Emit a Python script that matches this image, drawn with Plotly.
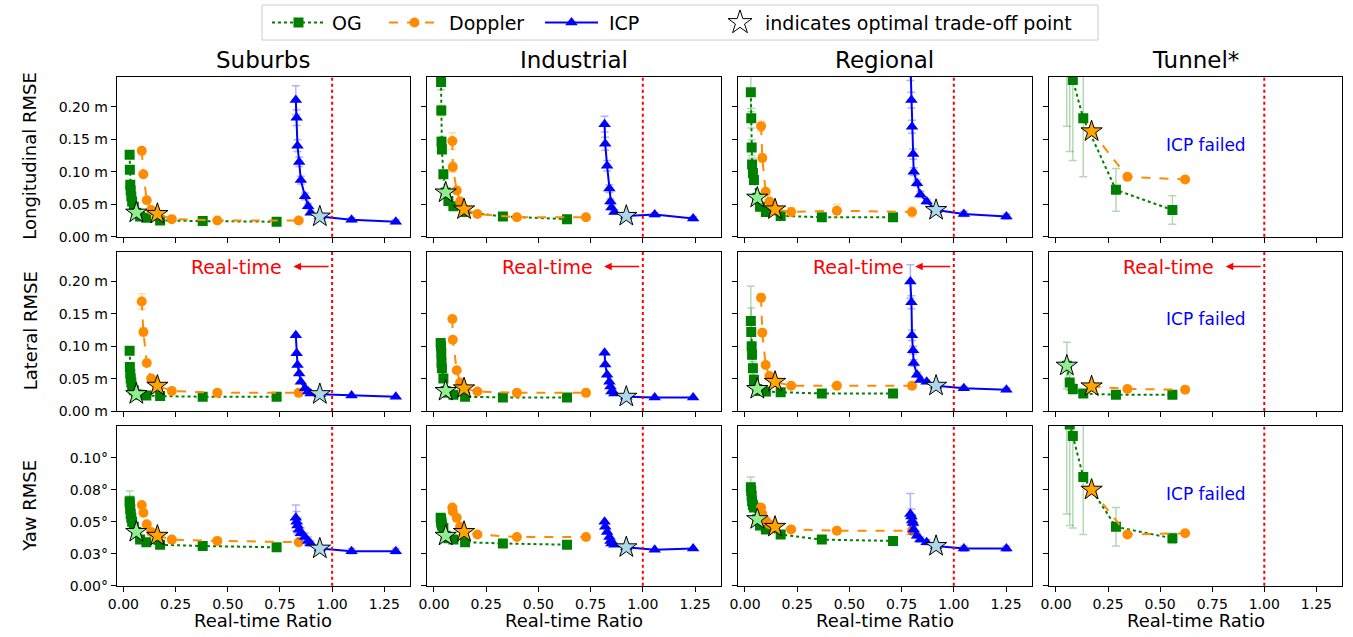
import plotly.graph_objects as go

# ---------------- labels / ticks ----------------
COLUMNS = ["Suburbs", "Industrial", "Regional", "Tunnel*"]
ROW_TITLES = ["Longitudinal RMSE", "Lateral RMSE", "Yaw RMSE"]
METHODS = ["OG", "Doppler", "ICP"]
STAR_LEGEND = "indicates optimal trade-off point"
X_TITLE = "Real-time Ratio"
REALTIME_RATIO = 1.0

X_TICKS = [0.0, 0.25, 0.5, 0.75, 1.0, 1.25]
X_TICK_TEXT = ["0.00", "0.25", "0.50", "0.75", "1.00", "1.25"]
Y_TICKS_M = [0.0, 0.05, 0.10, 0.15, 0.20]
Y_TICK_TEXT_M = ["0.00 m", "0.05 m", "0.10 m", "0.15 m", "0.20 m"]
Y_TICKS_DEG = [0.0, 0.025, 0.05, 0.075, 0.10]
Y_TICK_TEXT_DEG = ["0.00°", "0.03°", "0.05°", "0.08°", "0.10°"]

# ---------------- Suburbs ----------------
SUB_OG_X = [0.030, 0.031, 0.033, 0.035, 0.038, 0.042, 0.050, 0.062, 0.080, 0.110, 0.176, 0.380, 0.734]
SUB_OG_LON = [0.126, 0.103, 0.080, 0.071, 0.062, 0.054, 0.046, 0.037, 0.031, 0.029, 0.025, 0.024, 0.023]
SUB_OG_LAT = [0.093, 0.068, 0.058, 0.050, 0.044, 0.038, 0.032, 0.026, 0.025, 0.024, 0.023, 0.022, 0.022]
SUB_OG_YAW = [0.066, 0.064, 0.060, 0.056, 0.053, 0.050, 0.046, 0.042, 0.036, 0.034, 0.032, 0.031, 0.030]
SUB_OG_YAW_ERR = [0.008, 0.006, 0.005, 0.004, 0.004, 0.003, 0.003, 0.003, 0.002, 0.002, 0.002, 0.002, 0.002]
SUB_OG_STAR = 7

SUB_DOP_X = [0.088, 0.096, 0.112, 0.133, 0.163, 0.232, 0.450, 0.840]
SUB_DOP_LON = [0.132, 0.096, 0.056, 0.041, 0.035, 0.027, 0.025, 0.025]
SUB_DOP_LAT = [0.169, 0.122, 0.074, 0.050, 0.039, 0.031, 0.028, 0.028]
SUB_DOP_YAW = [0.063, 0.057, 0.048, 0.042, 0.039, 0.036, 0.035, 0.034]
SUB_DOP_LAT_ERR = [0.012, 0.006, 0.004, 0.003, 0.003, 0.002, 0.002, 0.002]
SUB_DOP_STAR = 4

SUB_ICP_X = [0.826, 0.830, 0.834, 0.842, 0.850, 0.870, 0.885, 0.897, 0.941, 1.093, 1.305]
SUB_ICP_LON = [0.210, 0.183, 0.140, 0.115, 0.087, 0.062, 0.047, 0.037, 0.031, 0.026, 0.023]
SUB_ICP_LAT = [0.117, 0.089, 0.071, 0.058, 0.045, 0.035, 0.030, 0.027, 0.026, 0.024, 0.022]
SUB_ICP_YAW = [0.053, 0.050, 0.047, 0.044, 0.041, 0.038, 0.035, 0.033, 0.029, 0.027, 0.027]
SUB_ICP_LON_ERR = [0.022, 0.012, 0.009, 0.007, 0.006, 0.005, 0.004, 0.003, 0.003, 0.003, 0.003]
SUB_ICP_YAW_ERR = [0.010, 0.008, 0.006, 0.005, 0.004, 0.003, 0.003, 0.002, 0.002, 0.002, 0.002]
SUB_ICP_STAR = 8

# ---------------- Industrial ----------------
IND_OG_X = [0.032, 0.034, 0.035, 0.036, 0.038, 0.045, 0.056, 0.069, 0.093, 0.149, 0.330, 0.637]
IND_OG_LON = [0.275, 0.238, 0.194, 0.146, 0.134, 0.096, 0.068, 0.055, 0.047, 0.038, 0.031, 0.027]
IND_OG_LAT = [0.105, 0.100, 0.089, 0.075, 0.066, 0.050, 0.031, 0.028, 0.025, 0.022, 0.021, 0.021]
IND_OG_YAW = [0.053, 0.052, 0.050, 0.049, 0.047, 0.045, 0.039, 0.037, 0.036, 0.034, 0.033, 0.032]
IND_OG_LON_ERR = [0.020, 0.012, 0.008, 0.008, 0.006, 0.005, 0.004, 0.003, 0.003, 0.003, 0.002, 0.002]
IND_OG_STAR = 6

IND_DOP_X = [0.088, 0.090, 0.109, 0.125, 0.144, 0.208, 0.397, 0.728]
IND_DOP_LON = [0.147, 0.107, 0.071, 0.054, 0.042, 0.035, 0.030, 0.030]
IND_DOP_LAT = [0.142, 0.110, 0.063, 0.044, 0.035, 0.030, 0.028, 0.028]
IND_DOP_YAW = [0.061, 0.058, 0.053, 0.046, 0.042, 0.040, 0.038, 0.038]
IND_DOP_LON_ERR = [0.013, 0.008, 0.005, 0.004, 0.003, 0.003, 0.002, 0.002]
IND_DOP_STAR = 4

IND_ICP_X = [0.817, 0.820, 0.829, 0.840, 0.845, 0.850, 0.864, 0.921, 1.057, 1.241]
IND_ICP_LON = [0.173, 0.143, 0.109, 0.074, 0.054, 0.045, 0.038, 0.032, 0.034, 0.028]
IND_ICP_LAT = [0.090, 0.072, 0.056, 0.045, 0.038, 0.030, 0.027, 0.022, 0.021, 0.021]
IND_ICP_YAW = [0.050, 0.046, 0.042, 0.038, 0.035, 0.033, 0.032, 0.030, 0.028, 0.029]
IND_ICP_LON_ERR = [0.012, 0.010, 0.008, 0.006, 0.004, 0.003, 0.003, 0.003, 0.003, 0.003]
IND_ICP_STAR = 7

# ---------------- Regional ----------------
REG_OG_X = [0.028, 0.030, 0.032, 0.034, 0.038, 0.043, 0.059, 0.072, 0.100, 0.171, 0.368, 0.709]
REG_OG_LON = [0.222, 0.182, 0.137, 0.111, 0.098, 0.087, 0.060, 0.046, 0.038, 0.032, 0.030, 0.030]
REG_OG_LAT = [0.139, 0.122, 0.100, 0.087, 0.066, 0.048, 0.034, 0.031, 0.030, 0.029, 0.027, 0.027]
REG_OG_YAW = [0.077, 0.074, 0.070, 0.066, 0.063, 0.061, 0.052, 0.047, 0.044, 0.040, 0.036, 0.035]
REG_OG_LON_ERR = [0.030, 0.015, 0.012, 0.010, 0.008, 0.007, 0.005, 0.004, 0.004, 0.003, 0.003, 0.003]
REG_OG_LAT_ERR = [0.054, 0.037, 0.020, 0.015, 0.010, 0.008, 0.005, 0.004, 0.003, 0.003, 0.003, 0.003]
REG_OG_YAW_ERR = [0.008, 0.006, 0.005, 0.004, 0.004, 0.003, 0.003, 0.003, 0.002, 0.002, 0.002, 0.002]
REG_OG_STAR = 6

REG_DOP_X = [0.077, 0.083, 0.099, 0.117, 0.144, 0.221, 0.440, 0.800]
REG_DOP_LON = [0.170, 0.121, 0.069, 0.054, 0.042, 0.038, 0.040, 0.038]
REG_DOP_LAT = [0.175, 0.121, 0.071, 0.054, 0.045, 0.039, 0.039, 0.039]
REG_DOP_YAW = [0.061, 0.056, 0.051, 0.048, 0.046, 0.044, 0.043, 0.043]
REG_DOP_LON_ERR = [0.008, 0.006, 0.004, 0.003, 0.003, 0.007, 0.010, 0.008]
REG_DOP_LAT_ERR = [0.006, 0.004, 0.003, 0.003, 0.002, 0.002, 0.002, 0.002]
REG_DOP_STAR = 4

REG_ICP_X = [0.792, 0.797, 0.800, 0.805, 0.808, 0.824, 0.840, 0.870, 0.915, 1.048, 1.252]
REG_ICP_LON = [0.270, 0.210, 0.169, 0.127, 0.100, 0.082, 0.065, 0.054, 0.041, 0.035, 0.031]
REG_ICP_LAT = [0.200, 0.168, 0.117, 0.094, 0.074, 0.056, 0.048, 0.045, 0.039, 0.035, 0.033]
REG_ICP_YAW = [0.056, 0.054, 0.051, 0.049, 0.044, 0.039, 0.036, 0.034, 0.031, 0.029, 0.029]
REG_ICP_LON_ERR = [0.030, 0.012, 0.010, 0.008, 0.006, 0.005, 0.005, 0.004, 0.004, 0.004, 0.004]
REG_ICP_LAT_ERR = [0.026, 0.010, 0.008, 0.006, 0.005, 0.004, 0.003, 0.003, 0.003, 0.003, 0.003]
REG_ICP_YAW_ERR = [0.016, 0.006, 0.004, 0.003, 0.003, 0.002, 0.002, 0.002, 0.002, 0.002, 0.002]
REG_ICP_STAR = 8

# ---------------- Tunnel (ICP failed) ----------------
TUN_OG_X = [0.052, 0.066, 0.081, 0.131, 0.288, 0.559]
TUN_OG_LON = [0.320, 0.280, 0.241, 0.182, 0.072, 0.041]
TUN_OG_LAT = [0.070, 0.044, 0.034, 0.027, 0.025, 0.025]
TUN_OG_YAW = [0.150, 0.126, 0.117, 0.085, 0.046, 0.037]
TUN_OG_LON_ERR = [0.150, 0.149, 0.124, 0.090, 0.033, 0.022]
TUN_OG_LAT_ERR = [0.036, 0.012, 0.008, 0.005, 0.004, 0.003]
TUN_OG_YAW_ERR = [0.094, 0.079, 0.072, 0.045, 0.015, 0.004]
TUN_OG_STAR = 0

TUN_DOP_X = [0.171, 0.343, 0.620]
TUN_DOP_LON = [0.162, 0.092, 0.088]
TUN_DOP_LAT = [0.038, 0.034, 0.033]
TUN_DOP_YAW = [0.075, 0.040, 0.041]
TUN_DOP_STAR = 0

# ---------------- assemble ----------------
def series(x, rows, errs, star):
    return dict(x=x, rows=rows, errs=errs, star=star)

PANELS = [
    {"OG": series(SUB_OG_X, [SUB_OG_LON, SUB_OG_LAT, SUB_OG_YAW], [None, None, SUB_OG_YAW_ERR], SUB_OG_STAR),
     "Doppler": series(SUB_DOP_X, [SUB_DOP_LON, SUB_DOP_LAT, SUB_DOP_YAW], [None, SUB_DOP_LAT_ERR, None], SUB_DOP_STAR),
     "ICP": series(SUB_ICP_X, [SUB_ICP_LON, SUB_ICP_LAT, SUB_ICP_YAW], [SUB_ICP_LON_ERR, None, SUB_ICP_YAW_ERR], SUB_ICP_STAR)},
    {"OG": series(IND_OG_X, [IND_OG_LON, IND_OG_LAT, IND_OG_YAW], [IND_OG_LON_ERR, None, None], IND_OG_STAR),
     "Doppler": series(IND_DOP_X, [IND_DOP_LON, IND_DOP_LAT, IND_DOP_YAW], [IND_DOP_LON_ERR, None, None], IND_DOP_STAR),
     "ICP": series(IND_ICP_X, [IND_ICP_LON, IND_ICP_LAT, IND_ICP_YAW], [IND_ICP_LON_ERR, None, None], IND_ICP_STAR)},
    {"OG": series(REG_OG_X, [REG_OG_LON, REG_OG_LAT, REG_OG_YAW], [REG_OG_LON_ERR, REG_OG_LAT_ERR, REG_OG_YAW_ERR], REG_OG_STAR),
     "Doppler": series(REG_DOP_X, [REG_DOP_LON, REG_DOP_LAT, REG_DOP_YAW], [REG_DOP_LON_ERR, REG_DOP_LAT_ERR, None], REG_DOP_STAR),
     "ICP": series(REG_ICP_X, [REG_ICP_LON, REG_ICP_LAT, REG_ICP_YAW], [REG_ICP_LON_ERR, REG_ICP_LAT_ERR, REG_ICP_YAW_ERR], REG_ICP_STAR)},
    {"OG": series(TUN_OG_X, [TUN_OG_LON, TUN_OG_LAT, TUN_OG_YAW], [TUN_OG_LON_ERR, TUN_OG_LAT_ERR, TUN_OG_YAW_ERR], TUN_OG_STAR),
     "Doppler": series(TUN_DOP_X, [TUN_DOP_LON, TUN_DOP_LAT, TUN_DOP_YAW], [None, None, None], TUN_DOP_STAR)},
]

FONT = "DejaVu Sans"
STYLE = {
    "OG": dict(color="#008000", dash="dot", symbol="square", err="rgba(0,128,0,0.3)", star="#90EE90", size=10),
    "Doppler": dict(color="#FF8C00", dash="dash", symbol="circle", err="rgba(255,140,0,0.3)", star="#FFA500", size=10),
    "ICP": dict(color="#0000FF", dash="solid", symbol="triangle-up", err="rgba(0,0,255,0.3)", star="#ADD8E6", size=11),
}

W, H = 1353, 637
COL_PX = [(116.7, 410.0), (427.3, 720.7), (738.3, 1031.7), (1049.3, 1342.0)]
ROW_PX = [(76.7, 236.7), (251.7, 411.0), (425.7, 585.7)]
X_RANGE = [-0.032, 1.373]
Y_RANGES = [[0, 0.246], [0, 0.246], [0, 0.125]]


def px_x(p):
    return p / W


def px_y(p):
    return 1 - p / H


fig = go.Figure()
layout = {}
annotations = []
shapes = []

for r in range(3):
    for c in range(4):
        k = r * 4 + c + 1
        xs = "x" if k == 1 else f"x{k}"
        ys = "y" if k == 1 else f"y{k}"
        xa = "xaxis" if k == 1 else f"xaxis{k}"
        ya = "yaxis" if k == 1 else f"yaxis{k}"
        x0, x1 = COL_PX[c]
        y0, y1 = ROW_PX[r]
        common = dict(showline=True, mirror=True, linecolor="black", linewidth=1,
                      ticks="outside", ticklen=5, tickwidth=1, tickcolor="black",
                      showgrid=False, zeroline=False, automargin=False, fixedrange=True,
                      tickfont=dict(family=FONT, size=14, color="black"))
        layout[xa] = dict(domain=[px_x(x0), px_x(x1)], anchor=ys, range=X_RANGE,
                          tickvals=X_TICKS, ticktext=X_TICK_TEXT,
                          showticklabels=(r == 2), **common)
        if r < 2:
            yt, ytt = Y_TICKS_M, Y_TICK_TEXT_M
        else:
            yt, ytt = Y_TICKS_DEG, Y_TICK_TEXT_DEG
        layout[ya] = dict(domain=[px_y(y1), px_y(y0)], anchor=xs, range=Y_RANGES[r],
                          tickvals=yt, ticktext=ytt, showticklabels=(c == 0), **common)

        panel = PANELS[c]
        stars_x, stars_y, stars_c = [], [], []
        for m in METHODS:
            if m not in panel:
                continue
            s = panel[m]
            st = STYLE[m]
            yv = s["rows"][r]
            err = s["errs"][r]
            fig.add_trace(go.Scatter(
                x=s["x"], y=yv, mode="lines+markers", xaxis=xs, yaxis=ys,
                line=dict(color=st["color"], dash=st["dash"], width=2),
                marker=dict(symbol=st["symbol"], size=st["size"], color=st["color"]),
                error_y=dict(type="data", array=err if err else [], visible=bool(err),
                             color=st["err"], thickness=1.5, width=4),
                showlegend=False, hoverinfo="skip"))
            stars_x.append(s["x"][s["star"]])
            stars_y.append(yv[s["star"]])
            stars_c.append(st["star"])
        fig.add_trace(go.Scatter(
            x=stars_x, y=stars_y, mode="markers", xaxis=xs, yaxis=ys,
            marker=dict(symbol="star", size=16, color=stars_c, line=dict(color="black", width=1)),
            showlegend=False, hoverinfo="skip"))

        shapes.append(dict(type="line", xref=xs, yref=f"{ys} domain",
                           x0=REALTIME_RATIO, x1=REALTIME_RATIO, y0=0, y1=1,
                           line=dict(color="red", dash="dot", width=2)))

        if c == 3:
            annotations.append(dict(xref=xs, yref=f"{ys} domain", x=0.72, y=0.575,
                                    xanchor="center", yanchor="middle",
                                    text="ICP failed", showarrow=False,
                                    font=dict(family=FONT, size=17, color="blue")))
        if r == 1:
            annotations.append(dict(xref=xs, yref=ys, x=0.77, y=0.223, xanchor="right",
                                    yanchor="middle", text="Real-time", showarrow=False,
                                    font=dict(family=FONT, size=19, color="red")))
            annotations.append(dict(xref=xs, yref=ys, x=0.815, y=0.223, ax=0.99, ay=0.223,
                                    axref=xs, ayref=ys, text="", showarrow=True,
                                    arrowhead=2, arrowsize=1, arrowwidth=1.5, arrowcolor="red"))

# column titles and x titles
for c, name in enumerate(COLUMNS):
    x0, x1 = COL_PX[c]
    annotations.append(dict(xref="paper", yref="paper", x=px_x((x0 + x1) / 2), y=px_y(60),
                            xanchor="center", yanchor="middle", text=name, showarrow=False,
                            font=dict(family=FONT, size=23, color="black")))
    annotations.append(dict(xref="paper", yref="paper", x=px_x((x0 + x1) / 2), y=px_y(620),
                            xanchor="center", yanchor="middle", text=X_TITLE, showarrow=False,
                            font=dict(family=FONT, size=18, color="black")))
for r, name in enumerate(ROW_TITLES):
    y0, y1 = ROW_PX[r]
    annotations.append(dict(xref="paper", yref="paper", x=px_x(30), y=px_y((y0 + y1) / 2),
                            xanchor="center", yanchor="middle",
                            text=name, showarrow=False, textangle=-90,
                            font=dict(family=FONT, size=18, color="black")))

# ---------------- custom legend (own hidden axis in pixel units) ----------------
LEG_BOX = (262, 5, 1098, 40)
LEG_Y = 22.5
LEG_ITEMS = [("OG", 272, 325, 330), ("Doppler", 389, 440, 447), ("ICP", 545, 598, 607)]
layout["xaxis13"] = dict(domain=[px_x(LEG_BOX[0]), px_x(LEG_BOX[2])], range=[LEG_BOX[0], LEG_BOX[2]],
                         visible=False, anchor="y13", fixedrange=True, automargin=False)
layout["yaxis13"] = dict(domain=[px_y(LEG_BOX[3]), px_y(LEG_BOX[1])], range=[LEG_BOX[3], LEG_BOX[1]],
                         visible=False, anchor="x13", fixedrange=True, automargin=False)
shapes.append(dict(type="rect", xref="paper", yref="paper",
                   x0=px_x(LEG_BOX[0]), x1=px_x(LEG_BOX[2]), y0=px_y(LEG_BOX[3]), y1=px_y(LEG_BOX[1]),
                   line=dict(color="#cccccc", width=1), fillcolor="white", layer="below"))
for name, h0, h1, tx in LEG_ITEMS:
    st = STYLE[name]
    fig.add_trace(go.Scatter(x=[h0, h1], y=[LEG_Y, LEG_Y], mode="lines", xaxis="x13", yaxis="y13",
                             line=dict(color=st["color"], dash=st["dash"], width=2),
                             showlegend=False, hoverinfo="skip", cliponaxis=False))
    fig.add_trace(go.Scatter(x=[(h0 + h1) / 2], y=[LEG_Y], mode="markers", xaxis="x13", yaxis="y13",
                             marker=dict(symbol=st["symbol"], size=st["size"], color=st["color"]),
                             showlegend=False, hoverinfo="skip", cliponaxis=False))
    annotations.append(dict(xref="x13", yref="y13", x=tx, y=LEG_Y, xanchor="left", yanchor="middle",
                            text=name, showarrow=False, font=dict(family=FONT, size=19, color="black")))
fig.add_trace(go.Scatter(x=[740], y=[LEG_Y], mode="markers", xaxis="x13", yaxis="y13",
                         marker=dict(symbol="star", size=18, color="white", line=dict(color="black", width=1)),
                         showlegend=False, hoverinfo="skip", cliponaxis=False))
annotations.append(dict(xref="x13", yref="y13", x=763, y=LEG_Y, xanchor="left", yanchor="middle",
                        text=STAR_LEGEND, showarrow=False, font=dict(family=FONT, size=19, color="black")))

fig.update_layout(
    width=W, height=H, margin=dict(l=0, r=0, t=0, b=0, autoexpand=False),
    paper_bgcolor="white", plot_bgcolor="rgba(0,0,0,0)",
    font=dict(family=FONT, size=14, color="black"),
    showlegend=False,
    annotations=annotations, shapes=shapes, **layout)

fig.write_html("out.html", config={"displayModeBar": False},
               post_script="document.body.style.margin='0px';")
